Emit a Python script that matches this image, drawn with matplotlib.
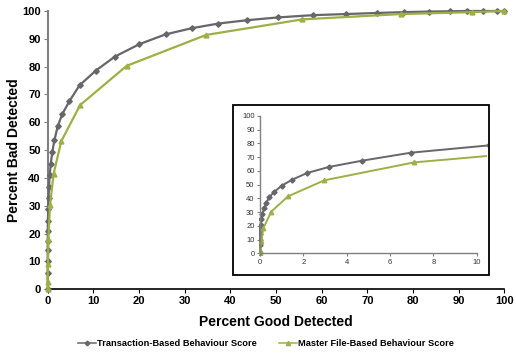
import matplotlib
matplotlib.use("Agg")
import matplotlib.pyplot as plt
from matplotlib.patches import Rectangle
from matplotlib.lines import Line2D

plt.rcParams['font.family'] = ['Liberation Sans', 'DejaVu Sans']

# Transaction-based behaviour score (cumulative % good vs % bad detected)
trans_good = [0, 0, 0, 0, 0.01, 0.02, 0.05, 0.11, 0.18, 0.28, 0.43, 0.66, 1.0, 1.48,
              2.17, 3.18, 4.72, 6.97, 10.55, 14.7, 20.1, 25.8, 31.5, 37.4, 43.7, 50.5,
              58.0, 65.3, 72.2, 78.1, 83.5, 88.0, 91.8, 95.4, 98.5, 100]
trans_bad = [0, 6, 10, 14, 17.5, 20.9, 24.7, 28.9, 32.8, 36.6, 41, 44.9, 49.3, 53.6,
             58.5, 62.9, 67.5, 73.3, 78.6, 83.6, 88.1, 91.6, 93.8, 95.5, 96.7, 97.7,
             98.5, 98.9, 99.3, 99.6, 99.8, 99.9, 100, 100, 100, 100]

# Master file-based behaviour score
master_good = [0, 0, 0.06, 0.15, 0.51, 1.29, 2.97, 7.1, 17.3, 34.7, 55.8, 77.4, 93.0, 100]
master_bad = [0, 2.5, 9, 18.2, 30.3, 41.5, 53.2, 66.2, 80.3, 91.4, 97.0, 98.9, 99.6, 100]

main_ticks = list(range(0, 101, 10))
inset_xticks = [0, 2, 4, 6, 8, 10]

gray = '#66666b'
green = '#9bb045'

W, H = 516, 353
fig = plt.figure(figsize=(W / 100, H / 100), dpi=100)

# main chart
ax = fig.add_axes([47.7 / W, 1 - 289.3 / H, (504.3 - 47.7) / W, (289.3 - 11) / H])
ax.plot(trans_good, trans_bad, color=gray, lw=1.6, marker='D', ms=2.8,
        clip_on=False, zorder=3)
ax.plot(master_good, master_bad, color=green, lw=1.6, marker='^', ms=3.5,
        clip_on=False, zorder=4)
ax.set_xlim(0, 100)
ax.set_ylim(0, 100)
ax.set_xticks(main_ticks)
ax.set_yticks(main_ticks)
for s in ['top', 'right']:
    ax.spines[s].set_visible(False)
ax.spines['left'].set_color('#808080')
ax.spines['left'].set_linewidth(1.5)
ax.spines['bottom'].set_color('black')
ax.spines['bottom'].set_linewidth(1.2)
ax.tick_params(axis='both', direction='out', length=3, labelsize=8, pad=2)
ax.tick_params(axis='y', colors='#808080', labelcolor='black')
for lab in ax.get_xticklabels() + ax.get_yticklabels():
    lab.set_fontweight('bold')
ax.set_xlabel('Percent Good Detected', fontsize=10, fontweight='bold', labelpad=6)
ax.set_ylabel('Percent Bad Detected', fontsize=10, fontweight='bold', labelpad=1)

handles = [Line2D([], [], color=gray, lw=1.1, marker='D', ms=2.4),
           Line2D([], [], color=green, lw=1.1, marker='^', ms=3.0)]
labels = ['Transaction-Based Behaviour Score', 'Master File-Based Behaviour Score']
fig.legend(handles, labels, loc='center', bbox_to_anchor=(266 / W, 1 - 344 / H), ncol=2,
           frameon=False, prop={'size': 6.7, 'weight': 'bold'}, handlelength=1.9,
           columnspacing=2.4, handletextpad=0.1, borderpad=0)

# inset frame
fig.patches.append(Rectangle((233.3 / W, 1 - 275 / H), (488.7 - 233.3) / W, (275 - 104.7) / H,
                             transform=fig.transFigure, facecolor='white', edgecolor='black',
                             lw=1.3, zorder=5))

# inset chart
ix = fig.add_axes([259 / W, 1 - 255.4 / H, (486.7 - 259) / W, (255.4 - 116) / H], zorder=6)
ix.patch.set_alpha(0)
ix.plot(trans_good, trans_bad, color=gray, lw=1.4, marker='D', ms=2.6)
ix.plot(master_good, master_bad, color=green, lw=1.4, marker='^', ms=3.2)
ix.set_xlim(-0.05, 10.46)
ix.set_ylim(-1.5, 100)
ix.spines['left'].set_position(('data', 0))
ix.spines['bottom'].set_position(('data', 0))
ix.spines['bottom'].set_bounds(0, 10)
for s in ['top', 'right']:
    ix.spines[s].set_visible(False)
for s in ['left', 'bottom']:
    ix.spines[s].set_color('#808080')
    ix.spines[s].set_linewidth(1.0)
ix.set_xticks(inset_xticks)
ix.set_yticks(main_ticks)
ix.tick_params(axis='both', direction='out', length=2.5, labelsize=5.5, pad=1.5,
               colors='#808080', labelcolor='#333333')

fig.savefig('out.png', dpi=100)
